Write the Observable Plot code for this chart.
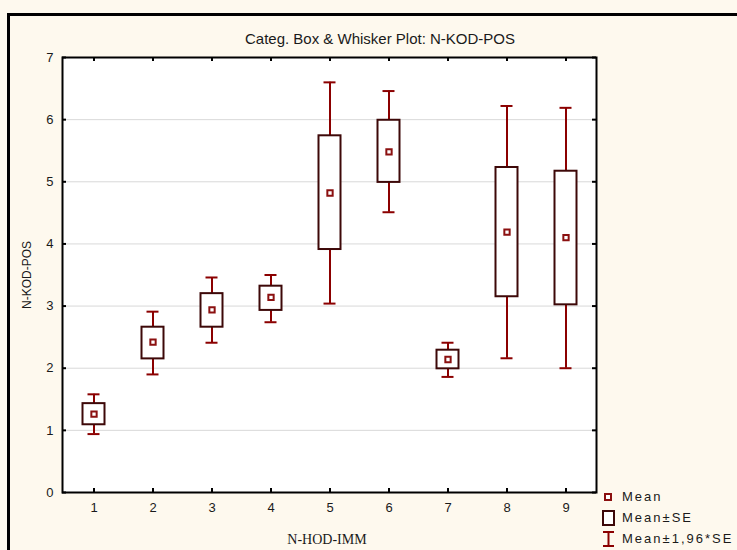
<!DOCTYPE html>
<html>
<head>
<meta charset="utf-8">
<script src="https://cdn.jsdelivr.net/npm/d3@7"></script>
<script src="https://cdn.jsdelivr.net/npm/@observablehq/plot@0.6"></script>
<style>
  body { margin: 0; background: #fef9ee; }
  #wrap { position: relative; width: 737px; height: 550px; background: #fef9ee; overflow: hidden; font-family: "Liberation Sans", Arial, sans-serif; }
  #outer { position: absolute; left: 7px; top: 13px; width: 800px; height: 600px; border-left: 3px solid #000; border-top: 3px solid #000; box-sizing: border-box; }
  #chart { position: absolute; left: 0; top: 0; }
  .lbl { position: absolute; white-space: nowrap; color: #1a1a1a; }
  #title { left: 380px; top: 38px; transform: translate(-50%, -50%); font-size: 15px; font-family: "Liberation Sans Narrow", "Arial Narrow", "Liberation Sans", sans-serif; font-stretch: condensed; }
  #ylab { left: 27px; top: 275px; transform: translate(-50%, -50%) rotate(-90deg); font-size: 12px; }
  #xlab { left: 327px; top: 540px; transform: translate(-50%, -50%); font-size: 14px; font-family: "Liberation Serif", "Times New Roman", serif; }
  #legend { position: absolute; left: 600px; top: 486px; }
  .leg { display: flex; align-items: center; height: 21px; font-size: 13px; letter-spacing: 2px; color: #1a1a1a; }
  .leg svg { margin-right: 6px; }
</style>
</head>
<body>
<div id="wrap">
  <div id="outer"></div>
  <div id="chart"></div>
  <div id="title" class="lbl">Categ. Box &amp; Whisker Plot: N-KOD-POS</div>
  <div id="ylab" class="lbl">N-KOD-POS</div>
  <div id="xlab" class="lbl">N-HOD-IMM</div>
  <div id="legend">
    <div class="leg"><svg width="16" height="16"><rect x="5" y="5" width="6" height="6" fill="white" stroke="#8b1010" stroke-width="2"/></svg>Mean</div>
    <div class="leg"><svg width="16" height="18"><rect x="3" y="2" width="11" height="14" fill="white" stroke="#3d0808" stroke-width="2"/></svg>Mean±SE</div>
    <div class="leg"><svg width="16" height="18"><line x1="8.5" y1="1" x2="8.5" y2="17" stroke="#8b0000" stroke-width="2"/><line x1="3" y1="2" x2="14" y2="2" stroke="#8b0000" stroke-width="2"/><line x1="3" y1="16" x2="14" y2="16" stroke="#8b0000" stroke-width="2"/></svg>Mean±1,96*SE</div>
  </div>
</div>
<script>
const categories = ["1", "2", "3", "4", "5", "6", "7", "8", "9"];
const means  = [1.26, 2.42, 2.94, 3.14, 4.82, 5.48, 2.14, 4.19, 4.10];
const seLow  = [1.09, 2.15, 2.66, 2.93, 3.91, 4.99, 1.99, 3.15, 3.02];
const seHigh = [1.43, 2.66, 3.20, 3.32, 5.74, 5.99, 2.29, 5.23, 5.17];
const ciLow  = [0.94, 1.90, 2.41, 2.74, 3.04, 4.51, 1.86, 2.16, 2.00];
const ciHigh = [1.58, 2.91, 3.46, 3.50, 6.60, 6.46, 2.41, 6.22, 6.19];
const yTicks = [0, 1, 2, 3, 4, 5, 6, 7];
const gridLines = [1, 2, 3, 4, 5, 6];

const rows = categories.map((c, i) => ({
  cat: c, mean: means[i], seLo: seLow[i], seHi: seHigh[i], ciLo: ciLow[i], ciHi: ciHigh[i]
}));

const boxColor = "#3d0808";
const whiskerColor = "#8b0000";
const meanColor = "#8b1010";

const plot = Plot.plot({
  width: 737,
  height: 550,
  marginLeft: 62,
  marginRight: 141,
  marginTop: 57,
  marginBottom: 58,
  style: { background: "transparent", fontFamily: "'Liberation Sans', Arial, sans-serif", fontSize: "13px", color: "#1a1a1a", overflow: "visible" },
  x: { type: "band", domain: categories, padding: 0 },
  y: { domain: [0, 7] },
  marks: [
    Plot.frame({ fill: "white" }),
    Plot.ruleY(gridLines, { stroke: "#d9d9d9", strokeWidth: 1 }),
    Plot.ruleX(rows, { x: "cat", y1: "ciLo", y2: "ciHi", stroke: whiskerColor, strokeWidth: 2 }),
    Plot.tickY(rows, { x: "cat", y: "ciLo", stroke: whiskerColor, strokeWidth: 2, insetLeft: 23.5, insetRight: 23.5 }),
    Plot.tickY(rows, { x: "cat", y: "ciHi", stroke: whiskerColor, strokeWidth: 2, insetLeft: 23.5, insetRight: 23.5 }),
    Plot.barY(rows, { x: "cat", y1: "seLo", y2: "seHi", fill: "white", stroke: boxColor, strokeWidth: 2, insetLeft: 18.5, insetRight: 18.5 }),
    Plot.dot(rows, { x: "cat", y: "mean", symbol: "square", r: 3, fill: "white", stroke: meanColor, strokeWidth: 2 }),
    // inward tick marks
    Plot.ruleY(yTicks, { stroke: "black", strokeWidth: 2, insetRight: 530 }),
    Plot.ruleY(yTicks, { stroke: "black", strokeWidth: 2, insetLeft: 530 }),
    Plot.ruleX(categories, { x: d => d, stroke: "black", strokeWidth: 2, insetTop: 431 }),
    Plot.ruleX(categories, { x: d => d, stroke: "black", strokeWidth: 2, insetBottom: 431 }),
    Plot.frame({ stroke: "black", strokeWidth: 2 }),
    Plot.axisY({ ticks: yTicks, tickFormat: d3.format("d"), tickSize: 0, tickPadding: 9, label: null, fontSize: 13 }),
    Plot.axisX({ tickSize: 0, tickPadding: 10, label: null, fontSize: 13 })
  ]
});
document.getElementById("chart").appendChild(plot);
</script>
</body>
</html>
